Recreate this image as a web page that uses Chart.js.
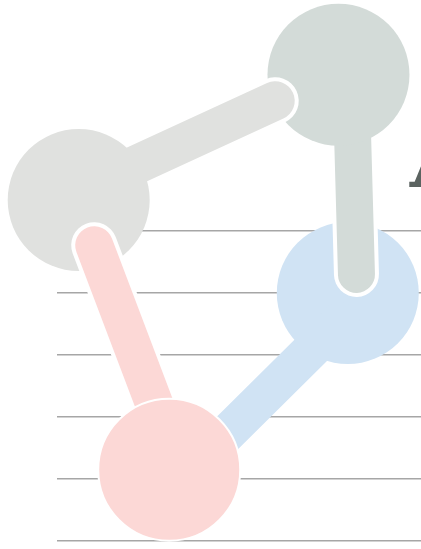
<!DOCTYPE html>
<html lang="en">
<head>
    <meta charset="UTF-8">
    <title>Network</title>
    <style>
        html, body { margin: 0; padding: 0; background: #ffffff; overflow: hidden; }
        .wrap { position: relative; width: 421px; height: 549px; overflow: hidden; }
        .title {
            position: absolute; left: 410px; top: 110px;
            font-family: "DejaVu Serif", serif; font-weight: 700;
            font-size: 90px; line-height: 1; color: #5b6360;
            white-space: nowrap;
        }
    </style>
</head>
<body>
    <div class="wrap">
        <canvas id="grafico"></canvas>
        <div class="title">A</div>
    </div>

    <script src="https://cdn.jsdelivr.net/npm/chart.js"></script>
    <script>
        // nodes (left, top, right, bottom)
        const nodeX = [0.35, 4.54, 4.69, 1.81];
        const nodeY = [5.50, 7.52, 4.00, 1.15];

        // links: light gray, dark gray stem, blue, pink
        const linkFromX = [0.35, 4.74, 2.15, 0.60];
        const linkFromY = [5.64, 7.52, 1.15, 4.77];
        const linkToX   = [3.52, 4.83, 4.57, 1.97];
        const linkToY   = [7.10, 4.30, 3.55, 1.15];

        const yTicks = [0, 1, 2, 3, 4, 5];

        const grisClaro = '#e0e1df';
        const grisOscuro = '#d3dbd8';
        const azul = '#d0e3f4';
        const rosa = '#fcd8d6';

        function nodo(i, color, borde, order) {
            return {
                data: [{ x: nodeX[i], y: nodeY[i] }],
                pointRadius: 71,
                backgroundColor: color,
                borderColor: '#ffffff',
                borderWidth: borde,
                clip: false,
                order: order
            };
        }

        function enlace(i, color, ancho, order) {
            return {
                data: [{ x: linkFromX[i], y: linkFromY[i] }, { x: linkToX[i], y: linkToY[i] }],
                showLine: true,
                pointRadius: 0,
                borderColor: color,
                borderWidth: ancho,
                borderCapStyle: 'round',
                clip: false,
                order: order
            };
        }

        // higher order = drawn first (underneath)
        const datasets = [
            nodo(2, azul, 0, 20),
            enlace(1, '#ffffff', 45, 19),
            enlace(1, grisOscuro, 37, 18),
            nodo(1, grisOscuro, 0, 17),
            enlace(0, '#ffffff', 47, 16),
            enlace(0, grisClaro, 39, 15),
            nodo(0, grisClaro, 0, 14),
            enlace(2, azul, 38, 13),
            enlace(3, '#ffffff', 46, 12),
            enlace(3, rosa, 38, 11),
            nodo(3, rosa, 2, 10)
        ];

        const canvas = document.getElementById('grafico');
        canvas.width = 421;
        canvas.height = 549;

        new Chart(canvas.getContext('2d'), {
            type: 'scatter',
            data: { datasets: datasets },
            options: {
                responsive: false,
                animation: false,
                events: [],
                layout: { autoPadding: false, padding: { left: 57, right: 0, top: 0, bottom: 0 } },
                plugins: { legend: { display: false }, tooltip: { enabled: false } },
                scales: {
                    x: {
                        display: false,
                        min: 0,
                        max: 364 / 62
                    },
                    y: {
                        min: -8 / 62,
                        max: 541 / 62,
                        z: 1,
                        afterFit: s => { s.width = 0; },
                        afterBuildTicks: s => { s.ticks = yTicks.map(v => ({ value: v })); },
                        ticks: { display: false },
                        border: { display: false },
                        grid: { color: 'rgba(150, 150, 150, 0.85)', lineWidth: 1.5, drawTicks: false }
                    }
                }
            }
        });
    </script>
</body>
</html>
